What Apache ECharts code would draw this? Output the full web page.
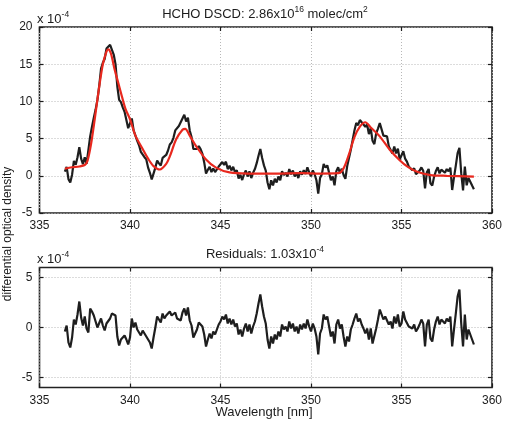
<!DOCTYPE html>
<html>
<head>
<meta charset="utf-8">
<script src="https://cdn.jsdelivr.net/npm/echarts@6/dist/echarts.min.js"></script>
<style>
html, body { margin: 0; padding: 0; background: #fff; }
#chart { width: 524px; height: 423px; }
</style>
</head>
<body>
<div id="chart"></div>
<script>
// wavelength grid of the measurement (nm)
var wlStart = 336.4;
var wlStep = 0.1;

// measured differential optical density (x 1e-4), one value per grid point
var measured = [
    0.55, 1.2, -0.45, -0.9, 0.15, 2.0, 1.5, 2.5, 3.85, 2.3,
    1.55, 2.5, 1.6, 1.7, 5.3, 6.6, 7.8, 8.9, 10.2, 12.1,
    14.4, 15.2, 15.7, 17.1, 17.2, 17.6, 17.4, 16.3, 15.0, 12.0,
    10.2, 9.9, 9.2, 8.6, 7.5, 6.4, 6.6, 7.7, 6.1, 5.9,
    4.7, 4.1, 3.2, 3.3, 2.5, 2.2, 1.1, 0.4, -0.5, 0.3,
    1.1, 2.05, 1.67, 1.37, 2.4, 2.2, 2.8, 3.4, 4.2, 4.5,
    5.1, 6.1, 6.0, 6.7, 6.65, 7.7, 8.2, 7.3, 7.8, 6.1,
    5.2, 3.6, 3.6, 3.6, 4.0, 3.6, 2.95, 1.8, 0.3, 0.8,
    1.2, 0.5, 1.0, 0.5, 0.85, 1.25, 1.45, 1.85, 1.47, 1.9,
    0.9, 1.35, 0.72, 1.2, 0.48, 0.76, -0.35, 0.14, -0.57, 0.22,
    0.71, -0.1, 0.6, -0.3, 0.4, 0.9, 1.7, 2.7, 3.6, 2.4,
    1.4, 0.7, -0.9, -1.8, -0.6, -1.3, -0.4, -0.9, -0.1, -0.6,
    0.6, 0.1, 0.4, -0.1, 0.9, 0.2, 0.7, -0.1, 0.4, -0.3,
    0.6, 0.15, 0.75, 0.25, 1.15, 0.45, -0.07, 0.72, 0.21, -0.6,
    -2.4, -0.3, 0.2, 1.6, 1.1, 1.4, 0.4, -0.6, -0.1, -1.28,
    0.63, 1.15, 0.35, 0.95, 0.1, -0.4, 1.3, 1.5, 3.5, 4.8,
    6.1, 7.1, 6.8, 7.5, 7.2, 7.0, 6.6, 6.9, 5.6, 6.4,
    4.7, 4.25, 5.7, 6.35, 7.1, 6.85, 5.4, 5.4, 5.3, 3.95,
    3.95, 3.0, 3.95, 3.0, 3.65, 2.2, 2.3, 3.3, 2.3, 1.9,
    1.25, 1.3, 0.75, 1.02, 0.2, 0.4, 0.7, 1.13, 0.67, -1.7,
    0.46, 0.92, -1.0, -1.32, -0.14, 0.65, 1.14, 0.33, 0.82, 0.92,
    0.41, 0.9, 0.6, 1.1, -1.91, -0.22, 1.37, 3.06, 3.75, 0.35,
    -1.96, 1.23, -1.28, -0.28, -0.79, -1.3, -1.8
];

// fit residuals (x 1e-4), same grid
var residuals = [
    -0.4, 0.2, -1.5, -2.0, -1.0, 0.8, 0.3, 1.3, 2.6, 1.0,
    0.2, 1.1, -0.1, -0.5, 1.9, 1.6, 1.2, 0.6, 0.0, 0.1,
    0.9, 0.2, -0.3, 0.4, 0.2, 0.9, 1.4, 1.5, 1.2, -0.9,
    -1.8, -1.2, -1.1, -0.8, -1.2, -1.7, -1.0, 0.9, 0.0, 0.5,
    -0.2, -0.3, -0.8, -0.3, -0.6, -0.5, -1.2, -1.5, -2.1, -1.0,
    0.0, 1.1, 0.8, 0.5, 1.4, 0.9, 1.2, 1.3, 1.6, 1.2,
    1.1, 1.5, 0.9, 1.1, 0.7, 1.5, 1.9, 1.2, 2.0, 0.7,
    0.2, -1.0, -0.6, -0.2, 0.5, 0.4, 0.1, -0.7, -1.9, -1.2,
    -0.6, -1.1, -0.4, -0.7, -0.2, 0.3, 0.6, 1.1, 0.8, 1.3,
    0.4, 0.9, 0.3, 0.8, 0.1, 0.4, -0.7, -0.2, -0.9, -0.1,
    0.4, -0.4, 0.3, -0.6, 0.1, 0.6, 1.4, 2.4, 3.3, 2.1,
    1.1, 0.4, -1.2, -2.1, -0.9, -1.6, -0.7, -1.2, -0.4, -0.9,
    0.3, -0.2, 0.1, -0.4, 0.6, -0.1, 0.4, -0.4, 0.1, -0.6,
    0.3, -0.2, 0.4, -0.1, 0.8, 0.1, -0.4, 0.4, -0.1, -0.9,
    -2.7, -0.6, -0.1, 1.3, 0.8, 1.1, 0.1, -0.9, -0.4, -1.6,
    0.3, 0.8, -0.1, 0.3, -0.9, -1.9, -0.9, -1.4, -0.2, 0.3,
    0.9, 1.4, 0.6, 0.9, 0.3, -0.1, -0.6, -0.1, -1.2, -0.1,
    -1.6, -1.8, -0.1, 0.8, 1.8, 1.9, 0.8, 1.1, 1.3, 0.3,
    0.6, -0.1, 1.1, 0.4, 1.3, 0.1, 0.4, 1.6, 0.8, 0.6,
    0.1, 0.3, -0.1, 0.3, -0.4, -0.1, 0.3, 0.8, 0.4, -1.9,
    0.3, 0.8, -1.1, -1.4, -0.2, 0.6, 1.1, 0.3, 0.8, 0.9,
    0.4, 0.9, 0.6, 1.1, -1.9, -0.2, 1.4, 3.1, 3.8, 0.4,
    -1.9, 1.3, -1.2, -0.2, -0.7, -1.2, -1.7
];

// fitted HCHO cross section (red curve)
var fitWavelength = [336.4, 336.8, 337.2, 337.5, 337.65, 337.85, 338.05, 338.3, 338.5, 338.7,
    338.8, 338.95, 339.15, 339.35, 339.55, 339.75, 340.0, 340.3, 340.7, 341.0,
    341.3, 341.65, 342.0, 342.2, 342.55, 342.9, 343.05, 343.3, 343.65, 344.2,
    344.75, 345.5, 346.5, 348.0, 349.5, 350.5, 351.5, 351.8, 352.1, 352.4,
    352.7, 353.0, 353.3, 353.8, 354.35, 354.9, 355.35, 355.9, 356.6, 357.5, 359.0];
var fitValue = [0.95, 1.15, 1.25, 1.45, 2.0, 4.3, 7.6, 12.0, 15.0, 16.7,
    17.0, 16.4, 14.3, 12.5, 10.7, 9.0, 7.6, 5.4, 3.6, 2.3,
    1.3, 0.85, 1.6, 2.6, 4.9, 6.2, 6.3, 5.4, 4.0, 2.2,
    1.1, 0.45, 0.3, 0.3, 0.35, 0.3, 0.35, 1.0, 2.9, 5.2,
    6.6, 7.2, 6.5, 5.3, 3.5, 2.1, 1.2, 0.5, 0.1, 0.0, -0.1];

var xTicks = [335, 340, 345, 350, 355, 360];
var topYTicks = [-5, 0, 5, 10, 15, 20];
var botYTicks = [-5, 0, 5];

function pairs(xs, ys) {
    var out = [];
    for (var i = 0; i < ys.length; i++) out.push([xs[i], ys[i]]);
    return out;
}
var wavelength = [];
for (var i = 0; i < measured.length; i++) {
    wavelength.push(+(wlStart + i * wlStep).toFixed(2));
}

var FONT = '"Liberation Sans", Arial, sans-serif';
var INK = '#1c1c1c';
var GRIDC = '#b8b8b8';

function xAxisCfg(grid, labels) {
    return {
        type: 'value', gridIndex: grid, position: labels ? 'bottom' : 'top',
        min: xTicks[0], max: xTicks[xTicks.length - 1], interval: 5,
        axisLine: { show: false, onZero: false },
        axisTick: { show: true, inside: true, length: 4, lineStyle: { color: INK, width: 1.2 } },
        axisLabel: { show: labels, color: INK, fontSize: 12, fontFamily: FONT, margin: 7 },
        splitLine: { show: labels, lineStyle: { color: GRIDC, type: [1, 2], width: 1 } }
    };
}
function yAxisCfg(grid, labels, min, max, ticks) {
    return {
        type: 'value', gridIndex: grid, position: labels ? 'left' : 'right',
        min: min, max: max,
        axisLine: { show: false, onZero: false },
        axisTick: { show: true, inside: true, length: 4, customValues: ticks, lineStyle: { color: INK, width: 1.2 } },
        axisLabel: { show: labels, customValues: ticks, color: INK, fontSize: 12, fontFamily: FONT, margin: 7 },
        splitLine: { show: labels, lineStyle: { color: GRIDC, type: [1, 2], width: 1 } }
    };
}
var richStyles = {
    a: { fontSize: 13, fontFamily: FONT, fill: INK, verticalAlign: 'bottom', padding: [3, 0, 0, 0] },
    s: { fontSize: 8.5, fontFamily: FONT, fill: INK, verticalAlign: 'top' }
};
function richText(x, y, parts, align) {
    return {
        type: 'text', x: x, y: y,
        style: { text: parts, fill: INK, align: align, verticalAlign: 'middle', rich: richStyles }
    };
}

var chart = echarts.init(document.getElementById('chart'), null, { renderer: 'canvas' });
chart.setOption({
    animation: false,
    backgroundColor: '#fff',
    grid: [
        { left: 39.5, top: 27, width: 452.5, height: 186, show: true, borderColor: '#222', borderWidth: 1.6, backgroundColor: 'transparent', outerBoundsMode: 'none' },
        { left: 39.5, top: 267.5, width: 452.5, height: 120, show: true, borderColor: '#222', borderWidth: 1.6, backgroundColor: 'transparent', outerBoundsMode: 'none' }
    ],
    xAxis: [xAxisCfg(0, true), xAxisCfg(0, false), xAxisCfg(1, true), xAxisCfg(1, false)],
    yAxis: [
        yAxisCfg(0, true, -5, 20, topYTicks), yAxisCfg(0, false, -5, 20, topYTicks),
        yAxisCfg(1, true, -6, 6, botYTicks), yAxisCfg(1, false, -6, 6, botYTicks)
    ],
    series: [
        {
            name: 'measured', type: 'line', xAxisIndex: 0, yAxisIndex: 0,
            data: pairs(wavelength, measured), showSymbol: false,
            lineStyle: { color: '#1e1e1e', width: 2.2 }, z: 2
        },
        {
            name: 'fit', type: 'line', xAxisIndex: 0, yAxisIndex: 0,
            data: pairs(fitWavelength, fitValue), showSymbol: false, smooth: 0.3,
            lineStyle: { color: '#e8281e', width: 2.2 }, z: 3
        },
        {
            name: 'residuals', type: 'line', xAxisIndex: 2, yAxisIndex: 2,
            data: pairs(wavelength, residuals), showSymbol: false,
            lineStyle: { color: '#1e1e1e', width: 2.2 }, z: 2
        }
    ],
    graphic: [
        richText(265, 13, '{a|HCHO DSCD: 2.86x10}{s|16}{a| molec/cm}{s|2}', 'center'),
        richText(265, 253, '{a|Residuals: 1.03x10}{s|-4}', 'center'),
        richText(37, 18, '{a|x 10}{s|-4}', 'left'),
        richText(37, 258, '{a|x 10}{s|-4}', 'left'),
        {
            type: 'text', x: 8, y: 234, rotation: Math.PI / 2,
            style: { text: 'differential optical density', fill: INK, fontSize: 12, fontFamily: FONT, align: 'center', verticalAlign: 'middle' }
        },
        {
            type: 'text', x: 264, y: 412,
            style: { text: 'Wavelength [nm]', fill: INK, fontSize: 13, fontFamily: FONT, align: 'center', verticalAlign: 'middle' }
        }
    ]
});
</script>
</body>
</html>
